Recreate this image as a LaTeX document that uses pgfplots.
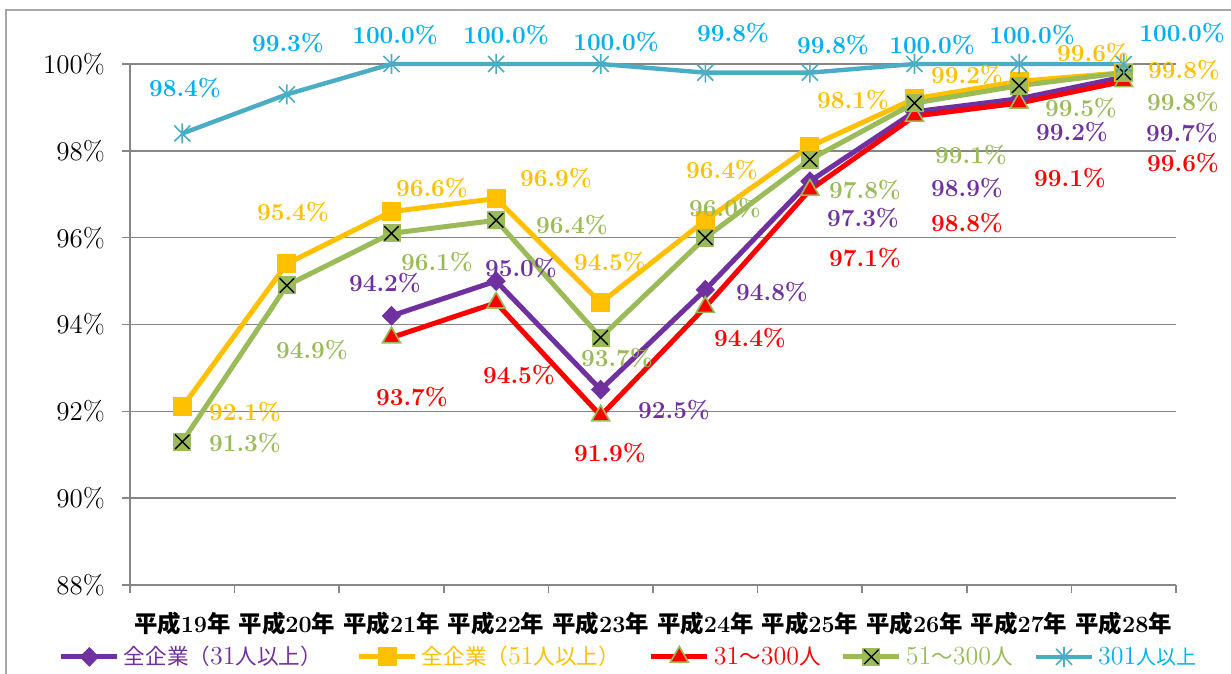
\documentclass[border=0pt]{standalone}
\usepackage{pgfplots}
\pgfplotsset{compat=1.18}
\usepackage{fontspec}
\newfontfamily\cjk{Noto Sans CJK JP}
\definecolor{cpur}{HTML}{7030A0}
\definecolor{cyel}{HTML}{FFC000}
\definecolor{cred}{HTML}{FF0000}
\definecolor{cgrn}{HTML}{9BBB59}
\definecolor{cblu}{HTML}{4BACC6}
\definecolor{cbtx}{HTML}{00B0F0}
\definecolor{cgrid}{HTML}{868686}
\definecolor{cframe}{HTML}{A6A6A6}

\pgfdeclareplotmark{boxx}{%
  \pgfpathrectangle{\pgfqpoint{-\pgfplotmarksize}{-\pgfplotmarksize}}{\pgfqpoint{2\pgfplotmarksize}{2\pgfplotmarksize}}%
  \pgfsetfillcolor{cgrn}\pgfusepathqfill
  \pgfsetstrokecolor{black}\pgfsetlinewidth{0.7pt}%
  \pgfpathmoveto{\pgfqpoint{-.8\pgfplotmarksize}{-.8\pgfplotmarksize}}%
  \pgfpathlineto{\pgfqpoint{.8\pgfplotmarksize}{.8\pgfplotmarksize}}%
  \pgfpathmoveto{\pgfqpoint{-.8\pgfplotmarksize}{.8\pgfplotmarksize}}%
  \pgfpathlineto{\pgfqpoint{.8\pgfplotmarksize}{-.8\pgfplotmarksize}}%
  \pgfusepathqstroke}
\pgfdeclareplotmark{xstar}{%
  \pgfpathmoveto{\pgfqpoint{0pt}{\pgfplotmarksize}}%
  \pgfpathlineto{\pgfqpoint{0pt}{-\pgfplotmarksize}}%
  \pgfpathmoveto{\pgfqpoint{-.8\pgfplotmarksize}{-.8\pgfplotmarksize}}%
  \pgfpathlineto{\pgfqpoint{.8\pgfplotmarksize}{.8\pgfplotmarksize}}%
  \pgfpathmoveto{\pgfqpoint{-.8\pgfplotmarksize}{.8\pgfplotmarksize}}%
  \pgfpathlineto{\pgfqpoint{.8\pgfplotmarksize}{-.8\pgfplotmarksize}}%
  \pgfusepathqstroke}

\newcommand\xl[1]{{\cjk\bfseries 平成}\textbf{#1}{\cjk\bfseries 年}}
\newcommand\lblfont{\fontsize{12.2}{13}\selectfont\bfseries}
\newcommand\lb[4]{\node[text=#1, font=\lblfont, inner sep=0pt] at ({(#2-130)*0.5pt},{(585-#3)*0.5pt}) {#4};}
\newcommand\dg[1]{{\fontsize{13}{14}\selectfont #1}}
\newcommand\legent[2]{\makebox[#1][l]{\kern2pt #2}}

\begin{document}
\begin{tikzpicture}
\path[use as bounding box] (-65pt,-44.5pt) rectangle (550.5pt,292.5pt);
\begin{axis}[
  at={(0pt,0pt)}, anchor=south west,
  scale only axis, width=523pt, height=260.5pt,
  xmin=-0.5, xmax=9.5, ymin=88, ymax=100,
  clip=false,
  axis x line*=bottom, axis y line*=left,
  axis line style={-, draw=cgrid, line width=0.8pt},
  tick align=outside,
  major tick length=4pt, minor tick length=4pt,
  xtick={0,...,9},
  xticklabels={\xl{19},\xl{20},\xl{21},\xl{22},\xl{23},\xl{24},\xl{25},\xl{26},\xl{27},\xl{28}},
  major x tick style={draw=none},
  minor xtick={-0.5,0.5,...,9.5},
  minor x tick style={draw=cgrid, line width=0.8pt},
  major y tick style={draw=cgrid, line width=0.8pt},
  xticklabel style={font=\fontsize{11.7}{12}\selectfont, text=black, yshift=-6pt},
  ytick={88,90,...,100},
  yticklabel={\pgfmathprintnumber{\tick}\%},
  /pgf/number format/assume math mode=true,
  yticklabel style={font=\fontsize{13.5}{14}\selectfont, text=black, xshift=-5pt},
  ymajorgrids, grid style={draw=cgrid, line width=0.8pt},
  legend columns=5,
  legend style={at={(axis description cs:-0.0684,-0.138)}, anchor=west, draw=none, fill=none,
    inner sep=0pt, font=\fontsize{10.8}{12}\selectfont, nodes={inner xsep=0pt},
    /tikz/every even column/.append style={column sep=0pt}},
  legend image code/.code={\draw[mark repeat=2,mark phase=2,#1] plot coordinates {(0pt,0pt) (14pt,0pt) (28pt,0pt)};},
]
\addplot[color=cpur, line width=2.5pt, mark=diamond*, mark size=4.6pt, mark options={solid, fill=cpur, draw=cpur, line width=0.5pt, xscale=1.3}]
  coordinates {(2,94.2) (3,95.0) (4,92.5) (5,94.8) (6,97.3) (7,98.9) (8,99.2) (9,99.7)};
\addlegendentry{\legent{118.5pt}{\textcolor{cpur}{{\cjk 全企業（}\dg{31}{\cjk 人以上）}}}}
\addplot[color=cyel, line width=2.5pt, mark=square*, mark size=4.5pt, mark options={solid, fill=cyel, draw=cyel, line width=0.5pt}]
  coordinates {(0,92.1) (1,95.4) (2,96.6) (3,96.9) (4,94.5) (5,96.4) (6,98.1) (7,99.2) (8,99.6) (9,99.8)};
\addlegendentry{\legent{115.5pt}{\textcolor{cyel}{{\cjk 全企業（}\dg{51}{\cjk 人以上）}}}}
\addplot[color=cred, line width=2.5pt, mark=triangle*, mark size=5.2pt, mark options={solid, fill=cred, draw=cgrn, line width=0.8pt}]
  coordinates {(2,93.7) (3,94.5) (4,91.9) (5,94.4) (6,97.1) (7,98.8) (8,99.1) (9,99.6)};
\addlegendentry{\legent{65.5pt}{\textcolor{cred}{\dg{31}{\cjk ～}\dg{300}{\cjk 人}}}}
\addplot[color=cgrn, line width=2.5pt, mark=boxx, mark size=4.5pt, mark options={solid}]
  coordinates {(0,91.3) (1,94.9) (2,96.1) (3,96.4) (4,93.7) (5,96.0) (6,97.8) (7,99.1) (8,99.5) (9,99.8)};
\addlegendentry{\legent{66pt}{\textcolor{cgrn}{\dg{51}{\cjk ～}\dg{300}{\cjk 人}}}}
\addplot[color=cblu, line width=2.2pt, mark=xstar, mark size=5pt, mark options={solid, draw=cblu, line width=0.8pt}]
  coordinates {(0,98.4) (1,99.3) (2,100.0) (3,100.0) (4,100.0) (5,99.8) (6,99.8) (7,100.0) (8,100.0) (9,100.0)};
\addlegendentry{\kern2pt\textcolor{cbtx}{\dg{301}{\cjk\fontsize{10}{12}\selectfont 人以上}}}
\end{axis}

% data labels (pixel positions of the reference)
\lb{cbtx}{185}{88}{98.4\%}
\lb{cbtx}{288}{43}{99.3\%}
\lb{cbtx}{395}{35}{100.0\%}
\lb{cbtx}{506}{35}{100.0\%}
\lb{cbtx}{616}{42}{100.0\%}
\lb{cbtx}{733}{33}{99.8\%}
\lb{cbtx}{833}{45}{99.8\%}
\lb{cbtx}{932}{45}{100.0\%}
\lb{cbtx}{1032}{35}{100.0\%}
\lb{cbtx}{1182}{33}{100.0\%}

\lb{cyel}{245}{412}{92.1\%}
\lb{cyel}{293}{212}{95.4\%}
\lb{cyel}{432}{188}{96.6\%}
\lb{cyel}{556}{178}{96.9\%}
\lb{cyel}{610}{262}{94.5\%}
\lb{cyel}{722}{170}{96.4\%}
\lb{cyel}{853}{100}{98.1\%}
\lb{cyel}{967}{75}{99.2\%}
\lb{cyel}{1093}{53}{99.6\%}
\lb{cyel}{1184}{70}{99.8\%}

\lb{cgrn}{245}{443}{91.3\%}
\lb{cgrn}{312}{350}{94.9\%}
\lb{cgrn}{437}{262}{96.1\%}
\lb{cgrn}{572}{225}{96.4\%}
\lb{cgrn}{617}{358}{93.7\%}
\lb{cgrn}{725}{208}{96.0\%}
\lb{cgrn}{865}{190}{97.8\%}
\lb{cgrn}{971}{155}{99.1\%}
\lb{cgrn}{1081}{108}{99.5\%}
\lb{cgrn}{1183}{102}{99.8\%}

\lb{cpur}{385}{283}{94.2\%}
\lb{cpur}{521}{268}{95.0\%}
\lb{cpur}{674}{410}{92.5\%}
\lb{cpur}{772}{292}{94.8\%}
\lb{cpur}{863}{218}{97.3\%}
\lb{cpur}{967}{188}{98.9\%}
\lb{cpur}{1072}{132}{99.2\%}
\lb{cpur}{1182}{133}{99.7\%}

\lb{cred}{412}{397}{93.7\%}
\lb{cred}{519}{375}{94.5\%}
\lb{cred}{610}{453}{91.9\%}
\lb{cred}{750}{338}{94.4\%}
\lb{cred}{865}{258}{97.1\%}
\lb{cred}{967}{223}{98.8\%}
\lb{cred}{1070}{178}{99.1\%}
\lb{cred}{1183}{163}{99.6\%}

% outer frame
\draw[cframe, line width=0.8pt] ({(6-130)*0.5pt},{(585-690)*0.5pt}) -- ({(6-130)*0.5pt},{(585-10)*0.5pt}) -- ({(1250-130)*0.5pt},{(585-10)*0.5pt});
\end{tikzpicture}
\end{document}
